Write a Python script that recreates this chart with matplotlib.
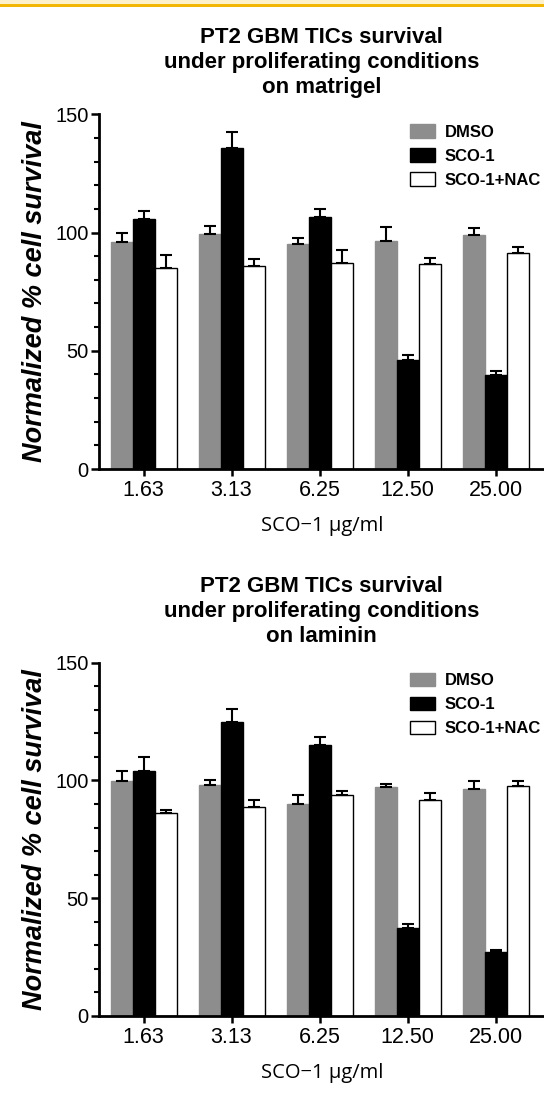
import numpy as np
import matplotlib
matplotlib.use("Agg")
import matplotlib.pyplot as plt
from matplotlib.patches import Rectangle
from matplotlib.ticker import MultipleLocator

plt.rcParams['font.family'] = ['Liberation Sans', 'DejaVu Sans']

doses = ["1.63", "3.13", "6.25", "12.50", "25.00"]
groups = ["DMSO", "SCO-1", "SCO-1+NAC"]

# matrigel panel: means and upper error (SEM)
mat_dmso = [95.8, 99.5, 95.1, 96.4, 99.1]
mat_dmso_err = [4.0, 3.4, 2.4, 5.9, 2.8]
mat_sco = [105.7, 135.6, 106.4, 46.2, 39.8]
mat_sco_err = [3.4, 6.9, 3.7, 2.0, 1.5]
mat_nac = [85.1, 85.7, 87.0, 86.5, 91.5]
mat_nac_err = [5.4, 3.1, 5.7, 2.7, 2.5]

# laminin panel
lam_dmso = [99.9, 97.9, 90.0, 97.2, 96.4]
lam_dmso_err = [4.1, 2.3, 4.0, 1.3, 3.4]
lam_sco = [104.0, 124.7, 115.1, 37.3, 27.1]
lam_sco_err = [6.1, 5.5, 3.2, 1.7, 1.0]
lam_nac = [86.2, 88.6, 93.6, 91.7, 97.5]
lam_nac_err = [1.4, 3.1, 1.7, 3.1, 2.3]

colors = ["#8d8d8d", "#000000", "#ffffff"]


def draw_panel(ax, title, means, errs):
    x = np.arange(len(doses))
    w = 0.25
    for i, (m, e) in enumerate(zip(means, errs)):
        pos = x + (i - 1) * w
        ax.bar(pos, m, width=w, color=colors[i],
               edgecolor="black" if i == 2 else colors[i],
               linewidth=1.0, label=groups[i], zorder=2)
        ax.errorbar(pos, m, yerr=[np.zeros(len(e)), e], fmt="none",
                    ecolor="black", elinewidth=1.5, capsize=4.3,
                    capthick=1.5, zorder=3)
    ax.set_xlim(-0.5, 4.55)
    ax.set_ylim(0, 150)
    ax.set_xticks(x)
    ax.set_xticklabels(doses, fontsize=15.5)
    ax.set_yticks([0, 50, 100, 150])
    ax.yaxis.set_minor_locator(MultipleLocator(10))
    ax.tick_params(axis="y", labelsize=14.5, length=6, width=1.8, pad=2)
    ax.tick_params(axis="y", which="minor", length=3.5, width=1.5)
    ax.tick_params(axis="x", length=5, width=1.8, pad=3)
    for s in ["top", "right"]:
        ax.spines[s].set_visible(False)
    for s in ["left", "bottom"]:
        ax.spines[s].set_linewidth(2.0)
    ax.set_xlabel("SCO\u22121 \u03bcg/ml", fontsize=14.5, labelpad=11,
                  family=["Open Sans", "DejaVu Sans"])
    ax.set_ylabel("Normalized % cell survival", fontsize=19.5,
                  fontweight="bold", style="italic", labelpad=5)
    ax.text(0.5, 1.045, title, transform=ax.transAxes, ha="center",
            va="bottom", fontsize=16, fontweight="bold", linespacing=1.25)
    leg = ax.legend(loc="upper left", bbox_to_anchor=(0.6985, 0.972),
                    frameon=False, fontsize=12, handlelength=1.5,
                    handleheight=0.9, labelspacing=0.5, handletextpad=0.6,
                    borderpad=0, borderaxespad=0)
    for t in leg.get_texts():
        t.set_fontweight("bold")


fig = plt.figure(figsize=(5.44, 11.0), dpi=100)
fig.patches.append(Rectangle((0, 0.9964), 1, 0.0036, transform=fig.transFigure,
                             facecolor="#fdf1cc", edgecolor="none"))
fig.patches.append(Rectangle((0, 0.9936), 1, 0.0028, transform=fig.transFigure,
                             facecolor="#f2b705", edgecolor="none"))

ax1 = fig.add_axes([0.1829, 0.5736, 0.8171, 0.3225])
draw_panel(ax1, "PT2 GBM TICs survival\nunder proliferating conditions\non matrigel",
           [mat_dmso, mat_sco, mat_nac], [mat_dmso_err, mat_sco_err, mat_nac_err])

ax2 = fig.add_axes([0.1829, 0.0764, 0.8171, 0.3212])
draw_panel(ax2, "PT2 GBM TICs survival\nunder proliferating conditions\non laminin",
           [lam_dmso, lam_sco, lam_nac], [lam_dmso_err, lam_sco_err, lam_nac_err])

fig.savefig("out.png", dpi=100)
